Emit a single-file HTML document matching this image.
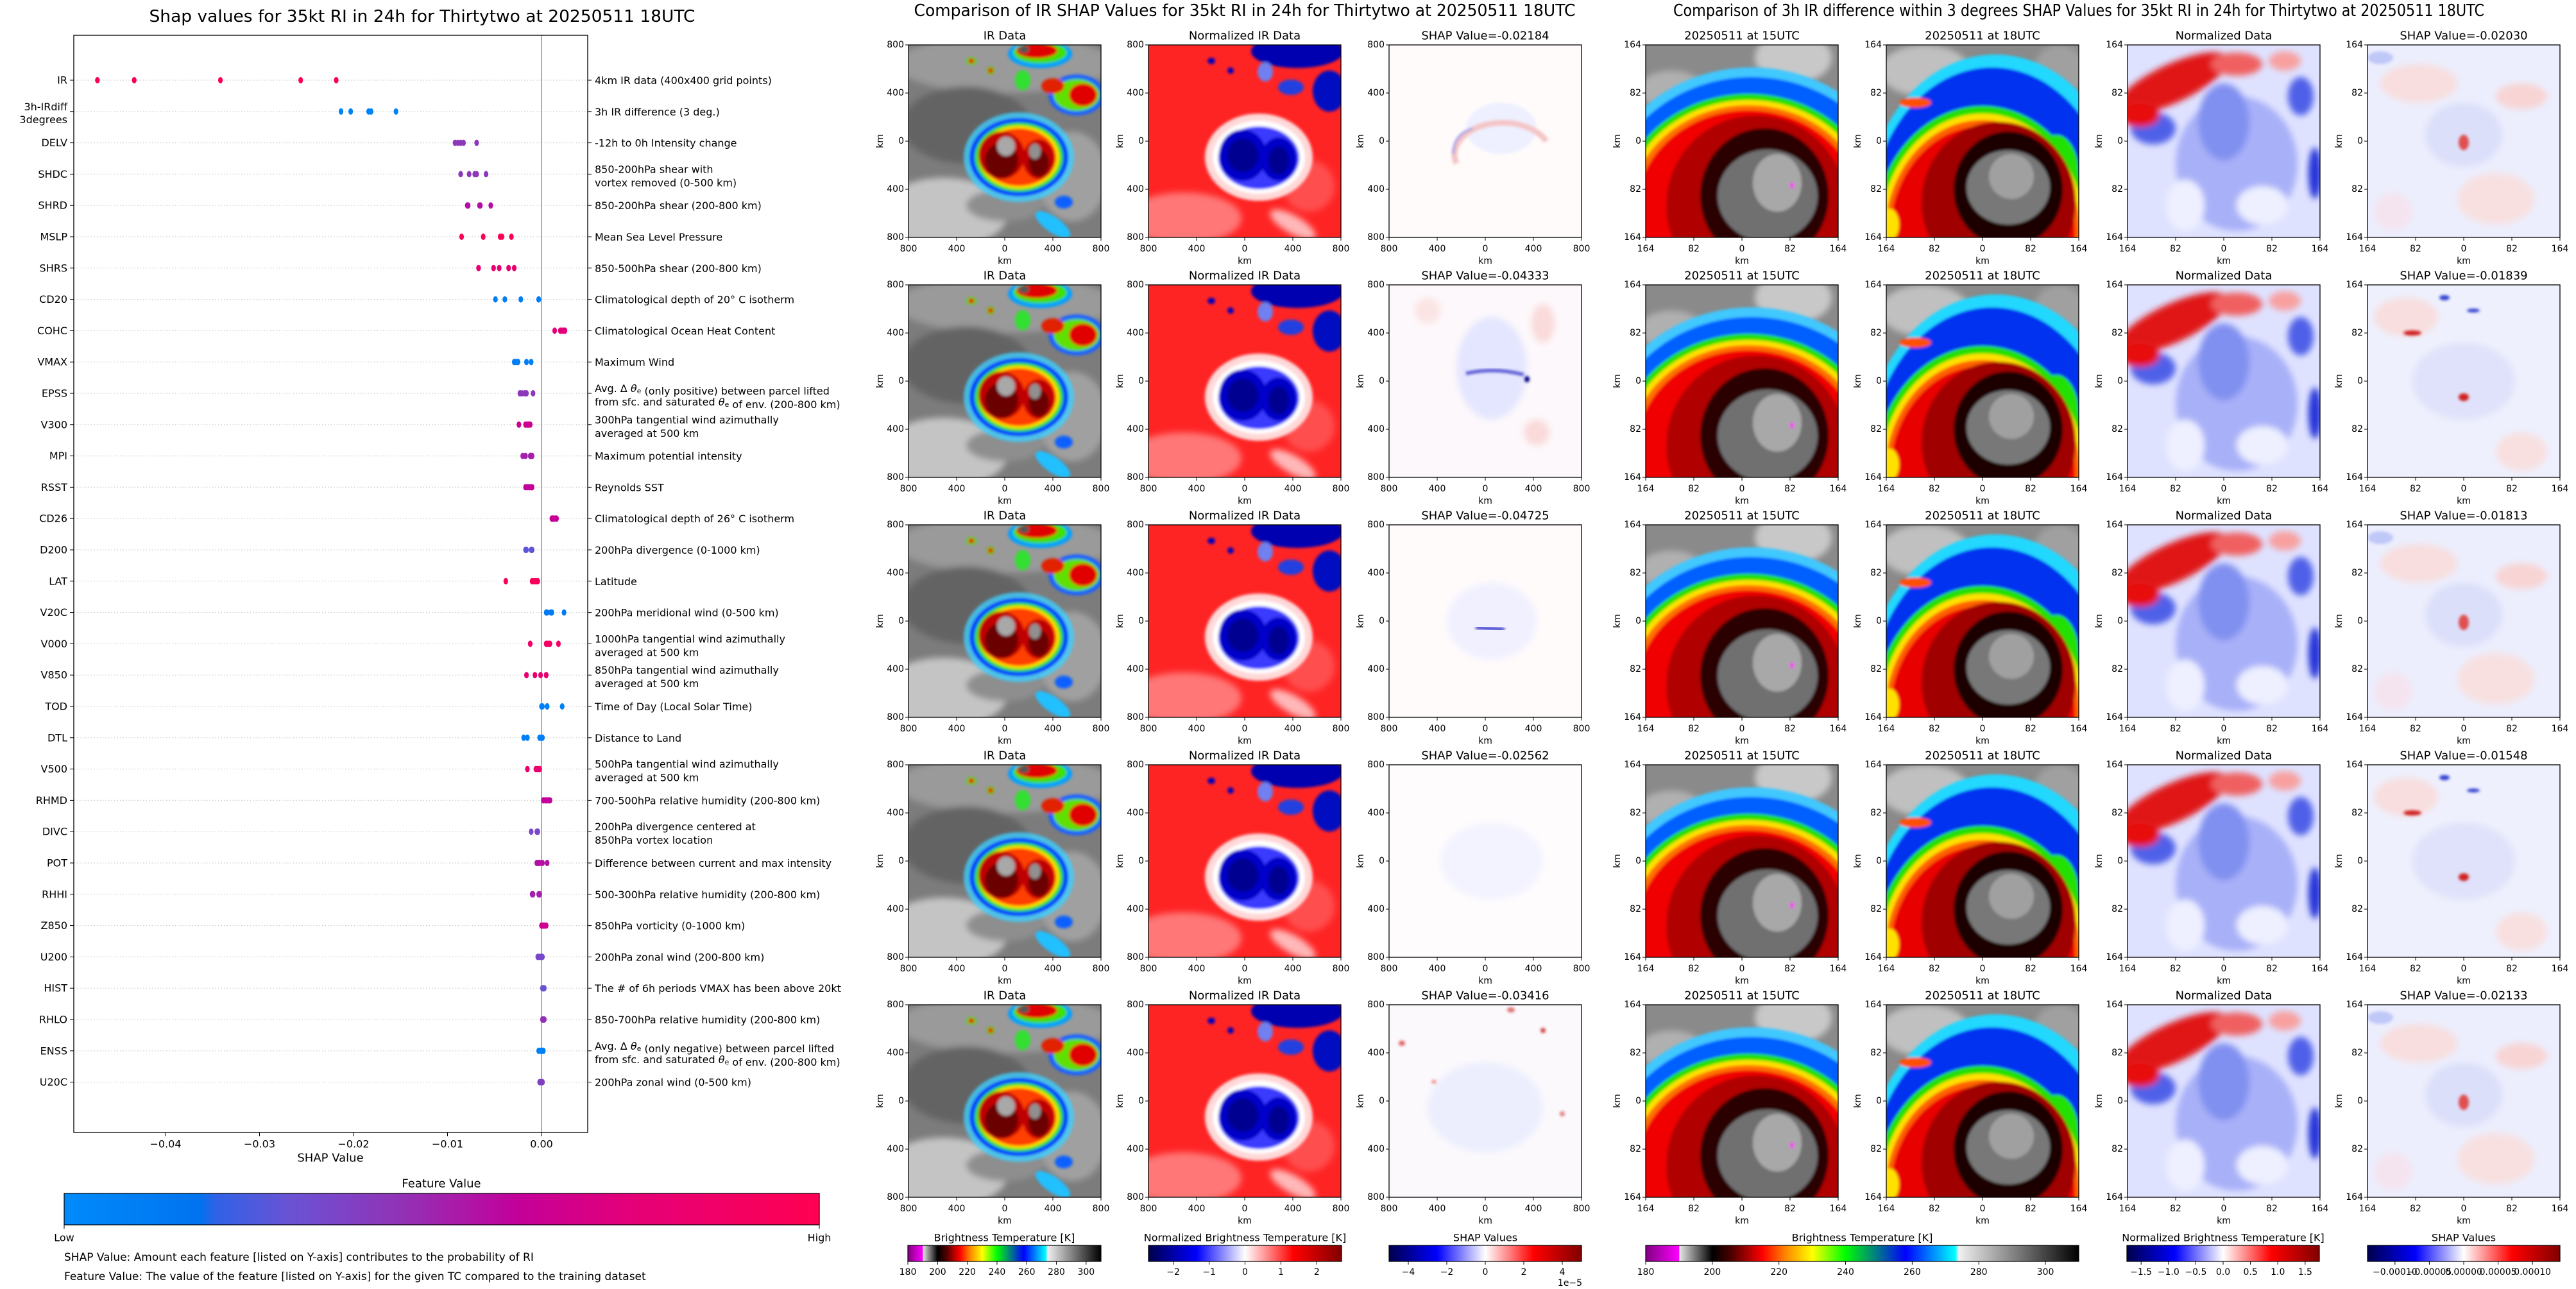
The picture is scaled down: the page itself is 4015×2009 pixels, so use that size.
<!DOCTYPE html>
<html><head><meta charset="utf-8"><title>SHAP RI figure</title>
<style>
html,body{margin:0;padding:0;background:#fff;}
svg{display:block;font-family:"DejaVu Sans","Liberation Sans",sans-serif;}
</style></head>
<body>
<svg id="fig" xmlns="http://www.w3.org/2000/svg" width="4015" height="2009" viewBox="0 0 4015 2009">
<defs>
<filter id="b2" x="-20%" y="-20%" width="140%" height="140%"><feGaussianBlur stdDeviation="2"/></filter>
<filter id="b4" x="-20%" y="-20%" width="140%" height="140%"><feGaussianBlur stdDeviation="5"/></filter>
<linearGradient id="featGrad" x1="0" x2="1" y1="0" y2="0">
<stop offset="0" stop-color="#008bfb"/><stop offset="0.18" stop-color="#0073ef"/><stop offset="0.2" stop-color="#2f62e6"/><stop offset="0.3" stop-color="#6b52d4"/><stop offset="0.45" stop-color="#9331b5"/><stop offset="0.6" stop-color="#c3009a"/><stop offset="0.75" stop-color="#e40078"/><stop offset="1" stop-color="#ff0052"/>
</linearGradient>
<linearGradient id="btGrad" x1="0" x2="1" y1="0" y2="0">
<stop offset="0" stop-color="#800080"/><stop offset="0.077" stop-color="#ff00ff"/><stop offset="0.078" stop-color="#e6e6e6"/><stop offset="0.154" stop-color="#000"/><stop offset="0.2" stop-color="#500000"/><stop offset="0.27" stop-color="#ff0000"/><stop offset="0.32" stop-color="#ff8000"/><stop offset="0.385" stop-color="#ffff00"/><stop offset="0.46" stop-color="#00ff00"/><stop offset="0.6" stop-color="#0000ff"/><stop offset="0.715" stop-color="#00ffff"/><stop offset="0.723" stop-color="#f0f0f0"/><stop offset="1" stop-color="#000"/>
</linearGradient>
<linearGradient id="seisGrad" x1="0" x2="1" y1="0" y2="0">
<stop offset="0" stop-color="#00004c"/><stop offset="0.25" stop-color="#0000ff"/><stop offset="0.5" stop-color="#ffffff"/><stop offset="0.75" stop-color="#ff0000"/><stop offset="1" stop-color="#800000"/>
</linearGradient>

<symbol id="irSym" viewBox="0 0 300 300">
<rect width="300" height="300" fill="#7c7c7c"/>
<g filter="url(#b4)">
<ellipse cx="150" cy="30" rx="170" ry="45" fill="#9a9a9a"/>
<ellipse cx="90" cy="125" rx="100" ry="60" fill="#636363"/>
<ellipse cx="55" cy="262" rx="100" ry="55" fill="#c4c4c4"/>
<ellipse cx="255" cy="205" rx="55" ry="70" fill="#a0a0a0"/>
<ellipse cx="150" cy="250" rx="60" ry="25" fill="#8e8e8e"/>
</g>
<g filter="url(#b2)">
<ellipse cx="205" cy="14" rx="50" ry="22" fill="#00a0ff"/><ellipse cx="205" cy="12" rx="42" ry="17" fill="#40e000"/><ellipse cx="200" cy="9" rx="32" ry="12" fill="#e00000"/><ellipse cx="180" cy="7" rx="8" ry="6" fill="#555"/>
<ellipse cx="98" cy="25" rx="8" ry="6" fill="#20e020"/><ellipse cx="98" cy="25" rx="5" ry="4" fill="#e00000"/>
<ellipse cx="128" cy="40" rx="6" ry="6" fill="#40d000"/><ellipse cx="128" cy="40" rx="4" ry="4" fill="#e00000"/>
<ellipse cx="178" cy="55" rx="12" ry="16" fill="#30e030"/>
<ellipse cx="262" cy="78" rx="44" ry="32" fill="#1c60ff"/><ellipse cx="262" cy="78" rx="36" ry="25" fill="#60e000"/><ellipse cx="272" cy="78" rx="22" ry="18" fill="#e00000"/><ellipse cx="225" cy="64" rx="18" ry="12" fill="#e02000"/>
<ellipse cx="225" cy="280" rx="32" ry="12" transform="rotate(35 225 280)" fill="#20c0ff"/>
<ellipse cx="242" cy="245" rx="14" ry="10" fill="#1060ff"/>
<ellipse cx="172" cy="175" rx="86" ry="70" fill="#40d0ff" opacity="0.8"/>
<ellipse cx="172" cy="175" rx="77" ry="61" fill="#0040ff"/>
<ellipse cx="172" cy="175" rx="69" ry="54" fill="#30e020"/>
<ellipse cx="172" cy="175" rx="63" ry="49" fill="#ffe000"/>
<ellipse cx="172" cy="175" rx="58" ry="45" fill="#ff4000"/>
<ellipse cx="145" cy="172" rx="36" ry="37" fill="#c00000"/><ellipse cx="203" cy="178" rx="25" ry="31" fill="#c00000"/>
<ellipse cx="145" cy="180" rx="26" ry="27" fill="#6a0000"/><ellipse cx="203" cy="184" rx="16" ry="21" fill="#6a0000"/>
<ellipse cx="152" cy="158" rx="14" ry="15" fill="#a8a8a8"/><ellipse cx="197" cy="166" rx="9" ry="12" fill="#909090"/>
</g>
</symbol>

<symbol id="normSym" viewBox="0 0 300 300">
<rect width="300" height="300" fill="#ff2424"/>
<g filter="url(#b4)">
<ellipse cx="55" cy="270" rx="90" ry="40" fill="#ff8c8c" opacity="0.8"/>
<ellipse cx="225" cy="280" rx="40" ry="14" transform="rotate(30 225 280)" fill="#ffb8b8"/>
<ellipse cx="250" cy="220" rx="40" ry="40" fill="#ff6a6a" opacity="0.6"/>
</g>
<g filter="url(#b2)">
<ellipse cx="232" cy="10" rx="72" ry="26" fill="#0000b0"/>
<ellipse cx="282" cy="72" rx="26" ry="32" fill="#0010c0"/>
<ellipse cx="222" cy="66" rx="20" ry="12" fill="#2040e0"/>
<ellipse cx="182" cy="42" rx="12" ry="15" fill="#7080f0"/>
<ellipse cx="98" cy="25" rx="6" ry="5" fill="#0000c0"/><ellipse cx="128" cy="40" rx="5" ry="5" fill="#0000c0"/>
<ellipse cx="172" cy="175" rx="84" ry="68" fill="#ffd8d8"/>
<ellipse cx="172" cy="175" rx="72" ry="57" fill="#ffffff"/>
<ellipse cx="172" cy="176" rx="63" ry="49" fill="#3a3aff"/>
<ellipse cx="147" cy="172" rx="37" ry="40" fill="#0000c8"/><ellipse cx="203" cy="178" rx="28" ry="34" fill="#0000c8"/>
<ellipse cx="147" cy="172" rx="24" ry="26" fill="#000090"/><ellipse cx="203" cy="180" rx="16" ry="22" fill="#000090"/>
</g>
</symbol>

<symbol id="shapA" viewBox="0 0 300 300">
<rect width="300" height="300" fill="#fffbfb"/>
<g filter="url(#b2)">
<ellipse cx="175" cy="130" rx="55" ry="40" fill="#eef0ff"/>
<path d="M 105 185 A 75 50 0 0 1 245 150" fill="none" stroke="#f4c4c4" stroke-width="9"/>
<path d="M 100 170 Q 100 140 130 130" fill="none" stroke="#9090e8" stroke-width="3"/>
</g>
</symbol>
<symbol id="shapB" viewBox="0 0 300 300">
<rect width="300" height="300" fill="#fdf8fb"/>
<g filter="url(#b4)">
<ellipse cx="160" cy="130" rx="55" ry="80" fill="#e4e6ff"/>
<ellipse cx="60" cy="40" rx="20" ry="20" fill="#fbe4e4"/><ellipse cx="240" cy="60" rx="18" ry="30" fill="#fadada"/>
<ellipse cx="230" cy="230" rx="20" ry="20" fill="#fadada"/>
</g>
<g filter="url(#b2)"><path d="M 120 138 Q 165 128 210 140" fill="none" stroke="#5050d0" stroke-width="5"/><ellipse cx="215" cy="147" rx="4" ry="5" fill="#000080"/></g>
</symbol>
<symbol id="shapC" viewBox="0 0 300 300">
<rect width="300" height="300" fill="#fffbfb"/>
<g filter="url(#b4)"><ellipse cx="160" cy="150" rx="70" ry="60" fill="#f0f0ff"/></g>
<g filter="url(#b2)"><path d="M 135 160 L 180 163" stroke="#3030c8" stroke-width="5"/></g>
</symbol>
<symbol id="shapD" viewBox="0 0 300 300">
<rect width="300" height="300" fill="#fefcfd"/>
<g filter="url(#b4)"><ellipse cx="160" cy="150" rx="80" ry="60" fill="#f3f3ff"/></g>
</symbol>
<symbol id="shapE" viewBox="0 0 300 300">
<rect width="300" height="300" fill="#fbf9fc"/>
<g filter="url(#b4)"><ellipse cx="150" cy="160" rx="90" ry="70" fill="#eceefe"/></g>
<g filter="url(#b2)"><ellipse cx="20" cy="60" rx="5" ry="4" fill="#e06060"/><ellipse cx="240" cy="40" rx="4" ry="4" fill="#d04040"/><ellipse cx="190" cy="8" rx="6" ry="4" fill="#e07070"/><ellipse cx="70" cy="120" rx="4" ry="3" fill="#f09090"/><ellipse cx="270" cy="170" rx="4" ry="4" fill="#e08080"/></g>
</symbol>

<symbol id="ir15" viewBox="0 0 300 300">
<rect width="300" height="300" fill="#8a8a8a"/>
<g filter="url(#b4)"><ellipse cx="230" cy="20" rx="60" ry="40" fill="#c8c8c8"/><ellipse cx="40" cy="70" rx="50" ry="30" fill="#b0b0b0"/></g>
<g filter="url(#b2)">
<ellipse cx="165" cy="255" rx="240" ry="220" fill="#40c8ff"/>
<ellipse cx="165" cy="258" rx="228" ry="208" fill="#0060ff"/>
<ellipse cx="160" cy="262" rx="205" ry="186" fill="#20e000"/>
<ellipse cx="160" cy="262" rx="195" ry="176" fill="#ffe000"/>
<ellipse cx="160" cy="262" rx="186" ry="168" fill="#ff7000"/>
<ellipse cx="160" cy="262" rx="176" ry="160" fill="#f00000"/>
<ellipse cx="172" cy="250" rx="140" ry="140" fill="#b00000"/>
<ellipse cx="185" cy="235" rx="100" ry="105" fill="#2a0000"/>
<ellipse cx="190" cy="235" rx="78" ry="72" fill="#707070"/>
<ellipse cx="205" cy="215" rx="38" ry="45" fill="#a8a8a8"/>
<ellipse cx="228" cy="219" rx="3" ry="5" fill="#ff00ff"/>
</g>
</symbol>
<symbol id="ir18" viewBox="0 0 300 300">
<rect width="300" height="300" fill="#8a8a8a"/>
<g filter="url(#b4)"><ellipse cx="60" cy="40" rx="70" ry="40" fill="#c0c0c0"/><ellipse cx="270" cy="40" rx="40" ry="40" fill="#a0a0a0"/></g>
<g filter="url(#b2)">
<ellipse cx="170" cy="270" rx="205" ry="255" fill="#20d8ff"/>
<ellipse cx="165" cy="275" rx="190" ry="240" fill="#0030f0"/>
<ellipse cx="265" cy="200" rx="35" ry="60" fill="#20e000"/>
<ellipse cx="150" cy="295" rx="170" ry="200" fill="#20e000"/>
<ellipse cx="150" cy="295" rx="160" ry="188" fill="#ffe000"/>
<ellipse cx="150" cy="295" rx="152" ry="178" fill="#ff6000"/>
<ellipse cx="150" cy="295" rx="144" ry="168" fill="#e80000"/>
<ellipse cx="175" cy="245" rx="120" ry="125" fill="#a00000"/>
<ellipse cx="190" cy="225" rx="85" ry="90" fill="#1e0000"/>
<ellipse cx="190" cy="222" rx="65" ry="58" fill="#787878"/>
<ellipse cx="195" cy="205" rx="35" ry="35" fill="#a0a0a0"/>
<ellipse cx="45" cy="90" rx="25" ry="8" fill="#ff5000"/>
<ellipse cx="5" cy="280" rx="15" ry="25" fill="#ffe000"/>
</g>
</symbol>
<symbol id="normD" viewBox="0 0 300 300">
<rect width="300" height="300" fill="#dfe2ff"/>
<g filter="url(#b4)">
<ellipse cx="170" cy="185" rx="95" ry="105" fill="#a8b0f8"/>
<ellipse cx="150" cy="120" rx="40" ry="60" fill="#8090f0"/>
<ellipse cx="40" cy="130" rx="35" ry="25" fill="#5060e8"/>
<ellipse cx="292" cy="200" rx="10" ry="40" fill="#2030d8"/>
<ellipse cx="90" cy="250" rx="30" ry="40" fill="#eef0ff"/>
<ellipse cx="210" cy="250" rx="40" ry="30" fill="#eef0ff"/>
<ellipse cx="70" cy="60" rx="95" ry="30" transform="rotate(-25 70 60)" fill="#e01818"/>
<ellipse cx="20" cy="110" rx="30" ry="18" fill="#e81010"/>
<ellipse cx="170" cy="30" rx="40" ry="18" fill="#f06060"/>
<ellipse cx="245" cy="25" rx="25" ry="15" fill="#f8a0a0"/>
<ellipse cx="270" cy="80" rx="20" ry="30" fill="#5060e8"/>
</g>
</symbol>
<symbol id="shapF" viewBox="0 0 300 300">
<rect width="300" height="300" fill="#eceefd"/>
<g filter="url(#b4)">
<ellipse cx="80" cy="60" rx="60" ry="30" fill="#f8dede"/>
<ellipse cx="240" cy="80" rx="40" ry="20" fill="#f8d4d4"/>
<ellipse cx="200" cy="240" rx="60" ry="40" fill="#f8e0e0"/>
<ellipse cx="40" cy="260" rx="30" ry="30" fill="#f4e4f0"/>
<ellipse cx="150" cy="140" rx="60" ry="50" fill="#dcdffa"/>
</g>
<g filter="url(#b2)"><ellipse cx="150" cy="152" rx="8" ry="12" fill="#e05050"/><ellipse cx="20" cy="20" rx="20" ry="10" fill="#c0c8f8"/></g>
</symbol>
<symbol id="shapG" viewBox="0 0 300 300">
<rect width="300" height="300" fill="#eef0fd"/>
<g filter="url(#b4)">
<ellipse cx="60" cy="50" rx="50" ry="30" fill="#f8dede"/>
<ellipse cx="240" cy="260" rx="40" ry="30" fill="#f8e0e0"/>
<ellipse cx="150" cy="150" rx="80" ry="60" fill="#dfe2fa"/>
</g>
<g filter="url(#b2)"><ellipse cx="70" cy="75" rx="14" ry="4" fill="#d02020"/><ellipse cx="150" cy="175" rx="8" ry="6" fill="#d02020"/><ellipse cx="165" cy="40" rx="10" ry="3" fill="#3040d0"/><ellipse cx="120" cy="20" rx="8" ry="4" fill="#3040d0"/></g>
</symbol>
</defs>
<rect width="4015" height="2009" fill="#ffffff"/>
<g id="left"></g>
<g id="mid"></g>
<g id="right"></g>
</svg>
<script>
// ---------- Left beeswarm data ----------
const features = ['IR','3h-IRdiff|3degrees','DELV','SHDC','SHRD','MSLP','SHRS','CD20','COHC','VMAX','EPSS','V300','MPI','RSST','CD26','D200','LAT','V20C','V000','V850','TOD','DTL','V500','RHMD','DIVC','POT','RHHI','Z850','U200','HIST','RHLO','ENSS','U20C'];
const descriptions = ['4km IR data (400x400 grid points)','3h IR difference (3 deg.)','-12h to 0h Intensity change','850-200hPa shear with|vortex removed (0-500 km)','850-200hPa shear (200-800 km)','Mean Sea Level Pressure','850-500hPa shear (200-800 km)','Climatological depth of 20° C isotherm','Climatological Ocean Heat Content','Maximum Wind','Avg. Δ TH (only positive) between parcel lifted|from sfc. and saturated TH of env. (200-800 km)','300hPa tangential wind azimuthally|averaged at 500 km','Maximum potential intensity','Reynolds SST','Climatological depth of 26° C isotherm','200hPa divergence (0-1000 km)','Latitude','200hPa meridional wind (0-500 km)','1000hPa tangential wind azimuthally|averaged at 500 km','850hPa tangential wind azimuthally|averaged at 500 km','Time of Day (Local Solar Time)','Distance to Land','500hPa tangential wind azimuthally|averaged at 500 km','700-500hPa relative humidity (200-800 km)','200hPa divergence centered at|850hPa vortex location','Difference between current and max intensity','500-300hPa relative humidity (200-800 km)','850hPa vorticity (0-1000 km)','200hPa zonal wind (200-800 km)','The # of 6h periods VMAX has been above 20kt','850-700hPa relative humidity (200-800 km)','Avg. Δ TH (only negative) between parcel lifted|from sfc. and saturated TH of env. (200-800 km)','200hPa zonal wind (0-500 km)'];
const shapValues = [
[-0.04725,-0.04333,-0.03416,-0.02562,-0.02184],
[-0.02133,-0.02030,-0.01839,-0.01813,-0.01548],
[-0.0092,-0.0089,-0.0086,-0.0083,-0.0069],
[-0.0086,-0.0077,-0.0071,-0.0069,-0.0059],
[-0.0079,-0.0078,-0.0066,-0.0065,-0.0054],
[-0.0085,-0.0062,-0.0044,-0.0042,-0.0032],
[-0.0067,-0.0051,-0.0045,-0.0035,-0.0029],
[-0.0049,-0.0039,-0.0022,-0.0003,-0.0003],
[0.0014,0.0020,0.0022,0.0024,0.0025],
[-0.0029,-0.0027,-0.0025,-0.0016,-0.0011],
[-0.0023,-0.0021,-0.0018,-0.0016,-0.0009],
[-0.0024,-0.0017,-0.0015,-0.0014,-0.0012],
[-0.0020,-0.0017,-0.0012,-0.0011,-0.0010],
[-0.0017,-0.0015,-0.0013,-0.0011,-0.0010],
[0.0011,0.0012,0.0013,0.0015,0.0016],
[-0.0017,-0.0016,-0.0011,-0.0010,-0.0010],
[-0.0038,-0.0010,-0.0008,-0.0006,-0.0004],
[0.0005,0.0006,0.0010,0.0011,0.0024],
[-0.0012,0.0005,0.0007,0.0009,0.0018],
[-0.0016,-0.0007,-0.0001,0.0005,0.0005],
[0.0000,0.0001,0.0006,0.0006,0.0022],
[-0.0019,-0.0015,-0.0002,0.0000,0.0001],
[-0.0015,-0.0006,-0.0004,-0.0002,-0.0002],
[0.0002,0.0004,0.0006,0.0008,0.0009],
[-0.0011,-0.0005,-0.0004,-0.0004,-0.0004],
[-0.0005,-0.0003,-0.0002,0.0001,0.0006],
[-0.0010,-0.0009,-0.0003,-0.0002,-0.0002],
[0.0000,0.0001,0.0002,0.0003,0.0005],
[-0.0004,-0.0003,-0.0001,0.0000,0.0001],
[0.0001,0.0002,0.0002,0.0002,0.0003],
[0.0001,0.0002,0.0002,0.0002,0.0003],
[-0.0003,-0.0001,0.0000,0.0001,0.0002],
[-0.0002,-0.0001,0.0000,0.0001,0.0001]];
const featureLevels = [0.98,0.06,0.42,0.42,0.55,0.97,0.8,0.1,0.75,0.1,0.42,0.65,0.5,0.6,0.62,0.28,0.95,0.12,0.88,0.8,0.08,0.1,0.82,0.6,0.35,0.55,0.5,0.65,0.35,0.3,0.45,0.08,0.38];
const xTicks = [-0.04,-0.03,-0.02,-0.01,0.00];
const xTickLabels = ['−0.04','−0.03','−0.02','−0.01','0.00'];

// ---------- Panel data ----------
const irShapTitles = ['-0.02184','-0.04333','-0.04725','-0.02562','-0.03416'];
const diffShapTitles = ['-0.02030','-0.01839','-0.01813','-0.01548','-0.02133'];
const kmTicks = ['800','400','0','400','800'];
const smallTicks = ['164','82','0','82','164'];
const btTicks = [180,200,220,240,260,280,300];
const normTicks = [-2,-1,0,1,2];
const shapTicks = [-4,-2,0,2,4];
const normTicks2 = [-1.5,-1.0,-0.5,0.0,0.5,1.0,1.5];
const shapTicks2 = [-0.0001,-0.00005,0,0.00005,0.0001];
const shapTickLabels2 = ['−0.00010','−0.00005','0.00000','0.00005','0.00010'];

const NS='http://www.w3.org/2000/svg';
function mk(tag, attrs, parent){const e=document.createElementNS(NS,tag);for(const k in attrs)e.setAttribute(k,attrs[k]);parent.appendChild(e);return e;}
function txt(s, attrs, parent){const e=mk('text',attrs,parent);e.textContent=s;return e;}

const featStops=[[0,[0,139,251]],[0.18,[0,115,239]],[0.2,[47,98,230]],[0.3,[107,82,212]],[0.45,[147,49,181]],[0.6,[195,0,154]],[0.75,[228,0,120]],[1,[255,0,82]]];
function featColor(t){for(let i=1;i<featStops.length;i++){if(t<=featStops[i][0]){const a=featStops[i-1],b=featStops[i];const f=(t-a[0])/(b[0]-a[0]);const c=a[1].map((v,j)=>Math.round(v+(b[1][j]-v)*f));return 'rgb('+c.join(',')+')';}}return 'rgb(255,0,82)';}

// ---------- Left plot ----------
const L=document.getElementById('left');
const AX_L=115, AX_R=916, AX_T=55, AX_B=1765;
function xScale(v){return 844+v*14650;}
function yScale(i){return 125+i*48.8;}

const t0=txt('Shap values for 35kt RI in 24h for Thirtytwo at 20250511 18UTC',{x:658,y:34,'text-anchor':'middle','font-size':26,textLength:851,lengthAdjust:'spacingAndGlyphs'},L);



features.forEach((f,i)=>{
  const y=yScale(i);
  const g=mk('line',{x1:AX_L,x2:AX_R,y1:y,y2:y,stroke:'#cccccc','stroke-width':1.2,'stroke-dasharray':'1.5,3'},L);
  
  
  const tk=mk('line',{x1:AX_L-6,x2:AX_L,y1:y,y2:y,stroke:'#000','stroke-width':1},L);
  
  
  const tk2=mk('line',{x1:AX_R,x2:AX_R+6,y1:y,y2:y,stroke:'#000','stroke-width':1},L);
  
  
  const parts=f.split('|');
  const lab=mk('text',{x:AX_L-10,y:y,'text-anchor':'end','font-size':16,'dominant-baseline':'central'},L);
  
  
  if(parts.length===1){lab.textContent=f;}else{parts.forEach((p,k)=>{const ts=mk('tspan',{x:AX_L-10,y:y+(k===0?-8:12)},lab);ts.textContent=p;});}
  const dparts=descriptions[i].split('|');
  dparts.forEach((p,k)=>{
    const yy=dparts.length===1?y:y+(k===0?-8:13);
    const d=mk('text',{x:927,y:yy,'font-size':16,'dominant-baseline':'central'},L);
    
    
    const segs=p.split('TH');
    segs.forEach((s,si)=>{
      const a=mk('tspan',{},d);a.textContent=s;
      if(si<segs.length-1){const th=mk('tspan',{'font-style':'italic'},d);th.textContent='θ';const sub=mk('tspan',{'font-size':11,dy:4},d);sub.textContent='e';const back=mk('tspan',{dy:-4},d);back.textContent='';}
    });
  });
});

const zl=mk('line',{x1:xScale(0),x2:xScale(0),y1:AX_T,y2:AX_B,stroke:'#999999','stroke-width':1.6},L);



shapValues.forEach((vals,i)=>{
  vals.forEach(v=>{
    const c=mk('ellipse',{cx:xScale(v),cy:yScale(i),rx:3.6,ry:5,fill:featColor(featureLevels[i])},L);
    
    
  });
});

const fr=mk('rect',{x:AX_L,y:AX_T,width:AX_R-AX_L,height:AX_B-AX_T,fill:'none',stroke:'#000','stroke-width':1.3},L);



xTicks.forEach((v,k)=>{
  const x=xScale(v);
  const tl=mk('line',{x1:x,x2:x,y1:AX_B,y2:AX_B+6,stroke:'#000','stroke-width':1},L);
  
  
  const tt=txt(xTickLabels[k],{x:x,y:1783,'text-anchor':'middle','font-size':16,'dominant-baseline':'central'},L);
  
  
});
const xl=txt('SHAP Value',{x:515,y:1805,'text-anchor':'middle','font-size':18,'dominant-baseline':'central'},L);


const fv=txt('Feature Value',{x:688,y:1845,'text-anchor':'middle','font-size':18,'dominant-baseline':'central'},L);


const cb=mk('rect',{x:100,y:1860,width:1177,height:49,fill:'url(#featGrad)',stroke:'#000','stroke-width':1.2},L);


[[100,'Low'],[1277,'High']].forEach(p=>{
  const l=mk('line',{x1:p[0],x2:p[0],y1:1909,y2:1915,stroke:'#000'},L);
  
  
  const t=txt(p[1],{x:p[0],y:1929,'text-anchor':'middle','font-size':16,'dominant-baseline':'central'},L);
  
  
});
const n1=txt('SHAP Value: Amount each feature [listed on Y-axis] contributes to the probability of RI',{x:100,y:1960,'font-size':17,'dominant-baseline':'central'},L);


const n2=txt('Feature Value: The value of the feature [listed on Y-axis] for the given TC compared to the training dataset',{x:100,y:1990,'font-size':17,'dominant-baseline':'central'},L);



// ---------- Panels ----------
const rowTops=[70,444,818,1192,1566];
function panel(parent,x,y,w,h,sym,title,ticks,name){
  const u=mk('use',{href:'#'+sym,x:x,y:y,width:w,height:h,preserveAspectRatio:'none'},parent);
  
  
  const b=mk('rect',{x:x,y:y,width:w,height:h,fill:'none',stroke:'#000','stroke-width':1.3},parent);
  
  
  const t=txt(title,{x:x+w/2,y:y-14,'text-anchor':'middle','font-size':18,'dominant-baseline':'central'},parent);
  
  
  ticks.forEach((s,k)=>{
    const tx=x+k*w/4, ty=y+k*h/4;
    const a=mk('line',{x1:tx,x2:tx,y1:y+h,y2:y+h+5,stroke:'#000'},parent);
    
    
    const al=txt(s,{x:tx,y:y+h+18,'text-anchor':'middle','font-size':14,'dominant-baseline':'central'},parent);
    
    
    const c=mk('line',{x1:x-5,x2:x,y1:ty,y2:ty,stroke:'#000'},parent);
    
    
    const cl=txt(s,{x:x-7,y:ty,'text-anchor':'end','font-size':14,'dominant-baseline':'central'},parent);
    
    
  });
  const kx=txt('km',{x:x+w/2,y:y+h+37,'text-anchor':'middle','font-size':14,'dominant-baseline':'central'},parent);
  
  
  const ky=txt('km',{x:x-44,y:y+h/2,'text-anchor':'middle','font-size':14,'dominant-baseline':'central',transform:'rotate(-90 '+(x-44)+' '+(y+h/2)+')'},parent);
  
  
}
const M=document.getElementById('mid');
const mt=txt('Comparison of IR SHAP Values for 35kt RI in 24h for Thirtytwo at 20250511 18UTC',{x:1940,y:17,'text-anchor':'middle','font-size':26,'dominant-baseline':'central',textLength:1031,lengthAdjust:'spacingAndGlyphs'},M);


const midCols=[1416,1790,2165];
const shapSyms=['shapA','shapB','shapC','shapD','shapE'];
rowTops.forEach((y,r)=>{
  panel(M,midCols[0],y,300,300,'irSym','IR Data',kmTicks,'ir-data-panel');
  panel(M,midCols[1],y,300,300,'normSym','Normalized IR Data',kmTicks,'normalized-ir-panel');
  panel(M,midCols[2],y,300,300,shapSyms[r],'SHAP Value='+irShapTitles[r],kmTicks,'ir-shap-panel');
});
const R=document.getElementById('right');
const rt=txt('Comparison of 3h IR difference within 3 degrees SHAP Values for 35kt RI in 24h for Thirtytwo at 20250511 18UTC',{x:3240,y:17,'text-anchor':'middle','font-size':26,'dominant-baseline':'central',textLength:1264,lengthAdjust:'spacingAndGlyphs'},R);


const rightCols=[2565,2940,3316,3690];
rowTops.forEach((y,r)=>{
  panel(R,rightCols[0],y,300,300,'ir15','20250511 at 15UTC',smallTicks,'ir-15utc-panel');
  panel(R,rightCols[1],y,300,300,'ir18','20250511 at 18UTC',smallTicks,'ir-18utc-panel');
  panel(R,rightCols[2],y,300,300,'normD','Normalized Data',smallTicks,'normalized-diff-panel');
  panel(R,rightCols[3],y,300,300,r%2?'shapG':'shapF','SHAP Value='+diffShapTitles[r],smallTicks,'diff-shap-panel');
});

// ---------- Colorbars ----------
function colorbar(parent,x,w,grad,title,vmin,vmax,ticks,labels,name){
  const y=1941,h=25;
  const t=txt(title,{x:x+w/2,y:1929,'text-anchor':'middle','font-size':16,'dominant-baseline':'central'},parent);
  
  
  const r=mk('rect',{x:x,y:y,width:w,height:h,fill:'url(#'+grad+')',stroke:'#000','stroke-width':1.2},parent);
  
  
  ticks.forEach((v,k)=>{
    const tx=x+(v-vmin)/(vmax-vmin)*w;
    const l=mk('line',{x1:tx,x2:tx,y1:y+h,y2:y+h+5,stroke:'#000'},parent);
    
    
    const tl=txt(labels[k],{x:tx,y:1983,'text-anchor':'middle','font-size':14,'dominant-baseline':'central'},parent);
    
    
  });
}
const fmt=v=>String(v).replace('-','−');
colorbar(M,1415,301,'btGrad','Brightness Temperature [K]',180,310,btTicks,btTicks.map(String),'brightness-colorbar');
colorbar(M,1790,301,'seisGrad','Normalized Brightness Temperature [K]',-2.69,2.69,normTicks,normTicks.map(fmt),'normalized-colorbar');
colorbar(M,2165,300,'seisGrad','SHAP Values',-5,5,shapTicks,shapTicks.map(fmt),'shap-colorbar');
const ex=txt('1e−5',{x:2447,y:2000,'text-anchor':'middle','font-size':14,'dominant-baseline':'central'},M);


colorbar(R,2565,675,'btGrad','Brightness Temperature [K]',180,310,btTicks,btTicks.map(String),'brightness-colorbar-diff');
colorbar(R,3315,300,'seisGrad','Normalized Brightness Temperature [K]',-1.76,1.76,normTicks2,normTicks2.map(v=>fmt(v.toFixed(1))),'normalized-colorbar-diff');
colorbar(R,3690,300,'seisGrad','SHAP Values',-0.00014,0.00014,shapTicks2,shapTickLabels2,'shap-colorbar-diff');
</script>
</body></html>
